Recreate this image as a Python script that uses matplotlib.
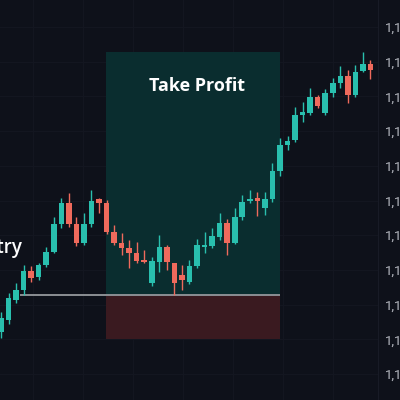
import matplotlib
matplotlib.use("Agg")
import matplotlib.pyplot as plt
import numpy as np
from matplotlib.ticker import FuncFormatter, FixedLocator

# ---- data ----
opens = [1.10121, 1.10156, 1.10213, 1.10242, 1.10297, 1.10280, 1.10314, 1.10352, 1.10432, 1.10493,
         1.10432, 1.10378, 1.10432, 1.10504, 1.10493, 1.10409, 1.10378, 1.10363, 1.10349, 1.10329,
         1.10262, 1.10323, 1.10366, 1.10320, 1.10285, 1.10265, 1.10311, 1.10366, 1.10369, 1.10395,
         1.10435, 1.10378, 1.10452, 1.10499, 1.10507, 1.10478, 1.10504, 1.10585, 1.10660, 1.10674,
         1.10746, 1.10752, 1.10798, 1.10752, 1.10810, 1.10839, 1.10859, 1.10804, 1.10873, 1.10893]
highs = [1.10179, 1.10233, 1.10262, 1.10314, 1.10311, 1.10320, 1.10366, 1.10452, 1.10507, 1.10522,
         1.10452, 1.10464, 1.10530, 1.10506, 1.10501, 1.10429, 1.10406, 1.10386, 1.10380, 1.10357,
         1.10337, 1.10401, 1.10372, 1.10320, 1.10314, 1.10329, 1.10389, 1.10409, 1.10421, 1.10464,
         1.10447, 1.10478, 1.10516, 1.10530, 1.10525, 1.10525, 1.10608, 1.10680, 1.10686, 1.10770,
         1.10784, 1.10824, 1.10804, 1.10821, 1.10853, 1.10888, 1.10876, 1.10891, 1.10928, 1.10905]
lows = [1.10104, 1.10144, 1.10205, 1.10228, 1.10265, 1.10271, 1.10308, 1.10349, 1.10421, 1.10424,
        1.10369, 1.10372, 1.10424, 1.10464, 1.10403, 1.10372, 1.10343, 1.10306, 1.10320, 1.10320,
        1.10254, 1.10294, 1.10300, 1.10228, 1.10242, 1.10259, 1.10306, 1.10349, 1.10363, 1.10386,
        1.10343, 1.10375, 1.10444, 1.10493, 1.10455, 1.10458, 1.10496, 1.10571, 1.10646, 1.10669,
        1.10726, 1.10746, 1.10767, 1.10746, 1.10798, 1.10824, 1.10781, 1.10798, 1.10870, 1.10850]
closes = [1.10161, 1.10219, 1.10242, 1.10297, 1.10277, 1.10314, 1.10352, 1.10432, 1.10493, 1.10432,
          1.10378, 1.10432, 1.10499, 1.10493, 1.10409, 1.10378, 1.10363, 1.10349, 1.10326, 1.10323,
          1.10326, 1.10366, 1.10323, 1.10262, 1.10271, 1.10311, 1.10372, 1.10372, 1.10398, 1.10435,
          1.10378, 1.10452, 1.10496, 1.10504, 1.10499, 1.10504, 1.10585, 1.10660, 1.10672, 1.10746,
          1.10755, 1.10798, 1.10772, 1.10810, 1.10839, 1.10859, 1.10804, 1.10870, 1.10893, 1.10876]

price_labels = [1.1100, 1.1090, 1.1080, 1.1070, 1.1060, 1.1050,
                1.1040, 1.1030, 1.1020, 1.1010, 1.1000]

zone_start = 13.9
zone_end = 37.0
entry_start = 2.5
take_profit_price = 1.10928
entry_price = 1.10228
stop_loss_price = 1.10101
entry_label_price = 1.10363
tp_label_price = 1.10830

# ---- style ----
BG = "#0e111a"
UP = "#29bfae"
DOWN = "#ef6a5c"
TP_FILL = "#0a2d2f"
SL_FILL = "#3a1a20"
GRID = "#131620"

fig = plt.figure(figsize=(4, 4), dpi=100, facecolor=BG)
ax = fig.add_axes([0, 0, 378 / 400, 1])
ax.set_facecolor(BG)

x = np.arange(len(opens))
o = np.array(opens); h = np.array(highs); l = np.array(lows); c = np.array(closes)
up = c >= o
colors = np.where(up, UP, DOWN)

ax.set_xlim(-0.13, 50.0)
ax.set_ylim(1.099251, 1.110778)

# grid
ax.set_axisbelow(True)
ax.yaxis.set_major_locator(FixedLocator(price_labels))
ax.xaxis.set_major_locator(FixedLocator(np.arange(4.25, 50, 6.63)))
ax.grid(True, color=GRID, linewidth=0.8)

# zones
ax.fill_between([zone_start, zone_end], entry_price, take_profit_price,
                color=TP_FILL, linewidth=0, zorder=2)
ax.fill_between([zone_start, zone_end], stop_loss_price, entry_price,
                color=SL_FILL, linewidth=0, zorder=2)
ax.plot([entry_start, zone_end], [entry_price, entry_price],
        color="#8c8f94", linewidth=1.4, zorder=2.5, solid_capstyle="butt")

# candles
ax.vlines(x, l, h, colors=colors, linewidth=1.0, zorder=3)
bottoms = np.minimum(o, c)
heights = np.maximum(np.abs(c - o), 0.000012)
ax.bar(x, heights, bottom=bottoms, width=0.74, color=colors, linewidth=0, zorder=4)

# texts
ax.text((zone_start + zone_end) / 2 + 0.6, tp_label_price, "Take Profit",
        color="white", fontsize=13, fontweight="bold", family="Open Sans",
        ha="center", va="center", zorder=5)
ax.text(entry_start + 0.25, entry_label_price, "Entry", color="white", fontsize=13.5,
        fontweight="semibold", family="Open Sans", ha="right", va="center", zorder=5)

# axes cosmetics
for s in ["top", "left", "bottom"]:
    ax.spines[s].set_visible(False)
ax.spines["right"].set_color("#181b26")
ax.yaxis.tick_right()
ax.tick_params(axis="y", length=0, pad=5, labelcolor="#b4b7bf", labelsize=9.5)
ax.tick_params(axis="x", length=0, labelbottom=False)
ax.yaxis.set_major_formatter(FuncFormatter(lambda v, p: f"{v:.4f}".replace(".", ",")))
for t in ax.get_yticklabels():
    t.set_family("Roboto")

fig.savefig("out.png", dpi=100, facecolor=BG)
